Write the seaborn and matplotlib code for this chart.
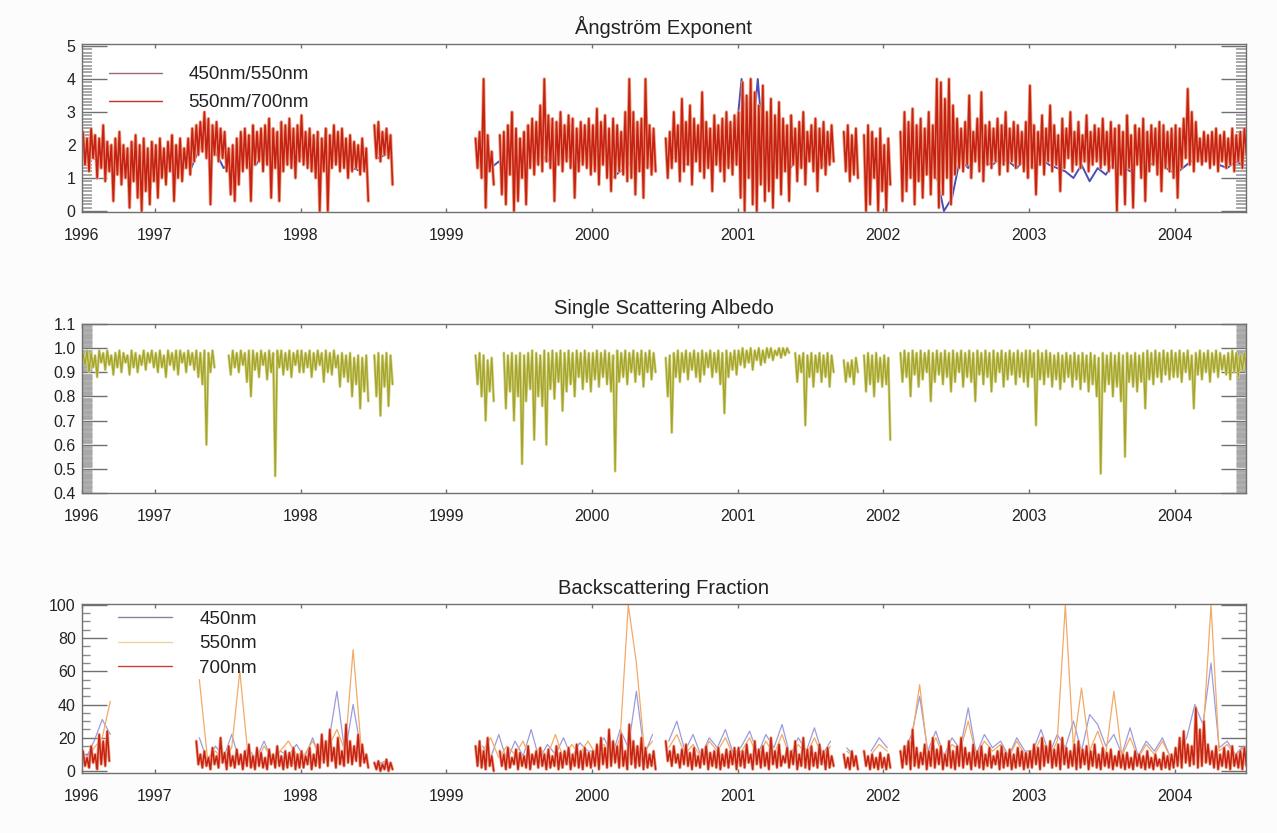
#!/usr/bin/env python3
'''
Series temporales de propiedades opticas del aerosol (1996-2004).
'''
import numpy as np
import pandas as pd
import matplotlib
matplotlib.use('Agg')
import matplotlib.pyplot as plt
from matplotlib.lines import Line2D
from matplotlib.ticker import FixedLocator, MultipleLocator, FormatStrFormatter
import seaborn as sns

G = np.nan  # hueco sin datos

YEARS = [1996, 1997, 1998, 1999, 2000, 2001, 2002, 2003, 2004]
YEAR_TICKS = [1996.5, 1997, 1998, 1999, 2000, 2001, 2002, 2003, 2004]
YEAR_LABELS = ['1996', '1997', '1998', '1999', '2000', '2001', '2002', '2003', '2004']

# Maximo / minimo leidos cada ~10 dias (36 por anio; 1996 y 2004 solo medio anio)
# --- Angstrom 550nm/700nm
ang_hi = [
    [2.4, 2.2, 2.5, 2.3, 2.2, 2.6, 2.1, 2.0, 2.2, 2.4, 2.0, 1.9,
     2.1, 2.3, 2.0, 2.2, 1.9, 2.1],
    [2.0, 2.2, 1.9, 2.1, 2.3, 2.0, 2.2, 1.9, 2.2, 2.5, 2.6, 2.7,
     3.0, 2.8, 2.6, 2.7, 2.5, 2.4, 1.9, 2.0, 2.2, 2.4, 2.5, 2.3,
     2.6, 2.4, 2.5, 2.6, 2.8, 2.5, 2.4, 2.7, 2.6, 2.8, 2.5, 2.6],
    [2.9, 2.4, 2.5, 2.3, 2.4, 2.2, 2.5, 2.3, 2.6, 2.4, 2.5, 2.2,
     2.3, 2.1, 2.0, 2.2, 1.9, G, 2.6, 2.7, 2.4, 2.5, 2.3, G,
     G, G, G, G, G, G, G, G, G, G, G, G],
    [G, G, G, G, G, G, G, 2.2, 2.4, 4.0, 2.3, 1.8,
     G, 2.3, 2.4, 2.6, 3.0, 2.5, 2.2, 2.4, 2.6, 2.8, 2.7, 3.2,
     4.0, 2.9, 2.8, 2.7, 3.0, 2.6, 2.9, 2.8, 2.5, 2.7, 2.6, 2.8],
    [2.6, 3.1, 2.7, 2.9, 2.5, 2.8, 2.6, 2.4, 3.0, 4.0, 3.0, 2.7,
     2.8, 4.0, 2.6, 2.5, G, G, 2.2, 2.4, 3.0, 2.6, 3.4, 2.7,
     3.2, 2.8, 2.6, 3.6, 2.7, 2.5, 2.9, 2.6, 2.8, 3.0, 2.7, 2.9],
    [3.0, 3.9, 3.5, 4.0, 3.6, 3.2, 3.8, 3.0, 3.4, 2.9, 3.3, 2.8,
     2.6, 2.9, 2.5, 2.7, 3.0, 2.4, 2.6, 2.8, 2.5, 2.7, 2.4, 2.6,
     G, G, 2.4, 2.6, 2.3, 2.5, G, 2.3, 2.6, 2.4, 2.2, 2.5],
    [2.0, 2.2, G, G, 2.4, 3.0, 2.7, 3.1, 2.6, 2.8, 2.5, 3.0,
     2.6, 4.0, 3.9, 3.4, 4.0, 3.2, 2.8, 2.5, 2.7, 3.5, 2.4, 2.8,
     3.6, 2.6, 2.7, 2.5, 2.8, 2.6, 3.0, 2.5, 2.7, 2.6, 2.4, 2.7],
    [3.8, 2.6, 2.4, 2.9, 2.5, 3.2, 2.6, 2.3, 2.8, 2.5, 3.0, 2.4,
     2.7, 2.3, 2.9, 2.4, 2.6, 2.5, 2.8, 2.4, 2.7, 2.5, 2.6, 2.4,
     2.9, 2.3, 2.6, 2.5, 2.8, 2.4, 2.6, 2.5, 2.7, 2.6, 2.4, 2.5],
    [2.6, 2.5, 2.8, 3.7, 3.0, 2.7, 2.2, 2.4, 2.3, 2.4, 2.5, 2.3,
     2.4, 2.2, 2.5, 2.3, 2.4, 2.5],
]
ang_lo = [
    [1.4, 1.2, 1.6, 1.0, 1.3, 0.9, 1.2, 0.3, 1.1, 0.8, 1.0, 0.1,
     0.9, 0.4, 0.0, 0.6, 0.2, 0.9],
    [0.4, 1.0, 0.8, 1.2, 0.3, 1.0, 0.9, 1.3, 1.1, 1.5, 1.7, 1.8,
     1.6, 0.2, 1.7, 1.5, 1.6, 1.2, 0.5, 0.3, 0.8, 1.2, 1.3, 0.3,
     1.4, 1.5, 1.2, 1.4, 0.4, 1.3, 0.3, 1.2, 1.4, 1.3, 1.0, 1.5],
    [1.4, 1.3, 1.2, 1.0, 0.0, 1.2, 0.0, 1.3, 1.4, 1.2, 1.3, 1.0,
     1.2, 1.3, 1.1, 1.2, 0.3, G, 1.6, 1.5, 1.7, 1.6, 0.8, G,
     G, G, G, G, G, G, G, G, G, G, G, G],
    [G, G, G, G, G, G, G, 1.3, 1.0, 0.1, 1.2, 0.8,
     G, 0.5, 0.2, 1.1, 0.0, 0.3, 1.0, 0.2, 1.3, 1.1, 1.4, 1.2,
     1.5, 1.3, 0.3, 1.4, 1.2, 1.5, 1.3, 0.4, 1.2, 1.4, 1.3, 1.1],
    [1.2, 0.8, 1.4, 1.0, 0.6, 1.0, 1.2, 1.1, 0.9, 1.0, 0.5, 1.2,
     0.4, 1.3, 1.1, 1.2, G, G, 1.0, 1.3, 1.5, 0.9, 1.2, 1.4,
     0.8, 1.5, 1.2, 1.0, 1.3, 0.6, 1.4, 1.2, 0.9, 1.3, 1.1, 1.4],
    [0.4, 0.0, 1.0, 0.2, 0.0, 0.8, 0.3, 0.6, 0.1, 1.0, 0.5, 1.2,
     0.3, 1.4, 0.9, 1.3, 0.8, 1.5, 1.2, 0.6, 1.3, 1.1, 1.4, 1.5,
     G, G, 1.2, 0.9, 1.1, 1.0, G, 0.0, 0.2, 1.0, 0.0, 0.6],
    [0.0, 0.8, G, G, 0.3, 0.6, 1.0, 0.2, 0.9, 0.4, 1.1, 0.5,
     1.0, 0.1, 0.5, 1.0, 0.2, 1.1, 1.3, 1.2, 1.4, 1.0, 1.5, 1.2,
     0.9, 1.4, 1.3, 1.5, 1.1, 1.4, 1.2, 1.5, 1.3, 1.4, 1.2, 1.0],
    [1.3, 0.5, 1.4, 1.1, 1.5, 1.2, 1.4, 0.6, 1.3, 1.6, 1.2, 1.4,
     1.3, 1.5, 1.2, 1.4, 1.5, 1.3, 1.4, 1.2, 1.3, 0.0, 1.1, 0.2,
     1.3, 0.1, 1.4, 1.0, 0.3, 1.2, 1.4, 1.1, 0.6, 1.3, 1.2, 1.0],
    [0.4, 1.3, 1.6, 1.4, 1.2, 1.5, 1.4, 1.5, 1.3, 1.4, 1.2, 1.5,
     1.3, 1.4, 1.2, 1.5, 1.3, 1.7],
]
# --- Angstrom 450nm/550nm (serie de 18 valores por anio, alternando)
ang_blue = [
    [1.8, 1.6, 1.4, 1.5, 1.2, 1.7, 1.0, 1.6, 1.3],
    [1.1, 1.6, 1.2, 1.5, 1.3, 1.9, 2.0, 1.8, 1.3, 1.5, 1.6, 1.7, 1.4, 1.8, 1.5, 1.4, 1.7, 1.6],
    [1.7, 1.5, 1.6, 1.4, 1.6, 1.5, 1.3, 1.2, G, 1.6, 1.7, G, G, G, G, G, G, G],
    [G, G, G, G, 1.6, 1.3, 1.5, 1.1, 1.7, 1.4, 1.6, 1.8, 1.5, 1.9, 1.6, 1.7, 1.5, 1.8],
    [1.6, 1.8, 1.0, 1.2, 1.4, 1.7, 1.5, 1.6, G, 1.5, 1.7, 1.4, 1.6, 1.8, 1.5, 1.7, 1.6, 1.5],
    [4.0, 1.2, 4.0, 1.0, 1.8, 1.5, 1.3, 1.6, 1.5, 1.7, 1.4, 1.6, G, 1.5, 1.3, G, 1.4, 1.6],
    [1.2, G, 1.5, 1.3, 1.6, 1.4, 1.2, 0.0, 0.4, 1.6, 1.3, 1.7, 1.5, 1.4, 1.6, 1.5, 1.3, 1.6],
    [1.5, 1.6, 1.4, 1.3, 1.2, 1.0, 1.4, 0.9, 1.3, 1.1, 1.5, 1.4, 1.2, 1.6, 1.3, 1.5, 1.4, 1.2],
    [1.2, 1.4, 1.6, 1.5, 1.7, 1.4, 1.3, 1.5, 1.4],
]

# --- Single scattering albedo
ssa_hi = [
    [0.98, 0.99, 0.98, 0.97, 0.99, 0.98, 0.99, 0.97, 0.98, 0.99, 0.98, 0.97,
     0.99, 0.98, 0.97, 0.99, 0.98, 0.99],
    [0.98, 0.99, 0.97, 0.99, 0.98, 0.99, 0.99, 0.98, 0.99, 0.98, 0.99, 0.98,
     0.99, 0.98, 0.99, G, G, G, 0.97, 0.99, 0.98, 0.99, 0.98, 0.99,
     0.99, 0.98, 0.99, 0.98, 0.99, 0.98, 0.99, 0.99, 0.98, 0.99, 0.98, 0.99],
    [0.99, 0.98, 0.99, 0.98, 0.99, 0.98, 0.99, 0.98, 0.99, 0.97, 0.98, 0.97,
     0.98, 0.96, 0.97, 0.96, 0.97, G, 0.97, 0.98, 0.97, 0.98, 0.97, G,
     G, G, G, G, G, G, G, G, G, G, G, G],
    [G, G, G, G, G, G, G, 0.97, 0.98, 0.97, 0.95, 0.96,
     G, G, 0.98, 0.97, 0.98, 0.97, 0.98, 0.97, 0.98, 0.99, 0.98, 0.97,
     0.99, 0.98, 0.99, 0.98, 0.99, 0.98, 0.99, 0.98, 0.99, 0.98, 0.99, 0.98],
    [0.98, 0.99, 0.98, 0.99, 0.98, 0.97, 0.99, 0.98, 0.99, 0.98, 0.99, 0.98,
     0.99, 0.98, 0.99, 0.98, G, G, 0.96, 0.97, 0.98, 0.99, 0.98, 0.99,
     0.98, 0.99, 0.98, 0.99, 0.98, 0.99, 0.98, 0.99, 0.98, 0.99, 0.98, 0.99],
    [0.99, 1.00, 0.99, 1.00, 0.99, 1.00, 0.99, 1.00, 1.00, 0.99, 1.00, 1.00,
     1.00, G, 0.98, 0.97, 0.98, 0.97, 0.98, 0.97, 0.98, 0.97, 0.98, 0.97,
     G, G, 0.95, 0.94, 0.95, 0.96, G, 0.97, 0.98, 0.97, 0.98, 0.96],
    [0.97, 0.96, G, G, 0.98, 0.99, 0.98, 0.99, 0.98, 0.99, 0.98, 0.99,
     0.98, 0.99, 0.98, 0.99, 0.98, 0.99, 0.98, 0.99, 0.98, 0.99, 0.98, 0.99,
     0.98, 0.99, 0.98, 0.99, 0.98, 0.99, 0.98, 0.99, 0.98, 0.99, 0.98, 0.99],
    [0.99, 0.98, 0.99, 0.98, 0.99, 0.98, 0.97, 0.98, 0.97, 0.98, 0.97, 0.98,
     0.97, 0.98, 0.97, 0.98, 0.97, 0.96, 0.98, 0.97, 0.98, 0.97, 0.98, 0.97,
     0.98, 0.97, 0.98, 0.97, 0.98, 0.99, 0.98, 0.99, 0.98, 0.99, 0.98, 0.99],
    [0.98, 0.99, 0.98, 0.99, 0.97, 0.98, 0.99, 0.98, 0.99, 0.98, 0.99, 0.98,
     0.97, 0.98, 0.99, 0.98, 0.97, 0.98],
]
ssa_lo = [
    [0.93, 0.90, 0.92, 0.88, 0.94, 0.91, 0.93, 0.89, 0.92, 0.90, 0.94, 0.89,
     0.92, 0.90, 0.93, 0.91, 0.94, 0.92],
    [0.90, 0.92, 0.88, 0.93, 0.91, 0.89, 0.94, 0.90, 0.93, 0.91, 0.88, 0.85,
     0.60, 0.90, 0.92, G, G, G, 0.89, 0.92, 0.90, 0.93, 0.86, 0.80,
     0.91, 0.88, 0.93, 0.87, 0.90, 0.47, 0.92, 0.89, 0.91, 0.88, 0.93, 0.90],
    [0.90, 0.92, 0.88, 0.91, 0.93, 0.86, 0.90, 0.89, 0.92, 0.84, 0.88, 0.86,
     0.80, 0.85, 0.75, 0.82, 0.78, G, 0.80, 0.72, 0.84, 0.76, 0.85, G,
     G, G, G, G, G, G, G, G, G, G, G, G],
    [G, G, G, G, G, G, G, 0.85, 0.80, 0.70, 0.82, 0.78,
     G, G, 0.75, 0.82, 0.70, 0.80, 0.52, 0.78, 0.83, 0.62, 0.80, 0.76,
     0.60, 0.83, 0.79, 0.86, 0.74, 0.82, 0.85, 0.80, 0.88, 0.83, 0.86, 0.82],
    [0.87, 0.84, 0.88, 0.85, 0.82, 0.49, 0.86, 0.88, 0.85, 0.90, 0.86, 0.89,
     0.84, 0.90, 0.87, 0.90, G, G, 0.80, 0.65, 0.88, 0.86, 0.90, 0.87,
     0.91, 0.88, 0.86, 0.89, 0.92, 0.88, 0.90, 0.85, 0.73, 0.88, 0.91, 0.89],
    [0.93, 0.92, 0.94, 0.91, 0.95, 0.93, 0.94, 0.96, 0.95, 0.97, 0.96, 0.97,
     0.98, G, 0.86, 0.90, 0.68, 0.88, 0.84, 0.90, 0.86, 0.88, 0.84, 0.90,
     G, G, 0.86, 0.88, 0.85, 0.90, G, 0.82, 0.85, 0.80, 0.86, 0.84],
    [0.85, 0.62, G, G, 0.86, 0.88, 0.80, 0.89, 0.84, 0.87, 0.90, 0.78,
     0.86, 0.89, 0.85, 0.88, 0.82, 0.86, 0.90, 0.84, 0.88, 0.86, 0.78, 0.89,
     0.85, 0.88, 0.82, 0.86, 0.90, 0.84, 0.87, 0.89, 0.85, 0.88, 0.86, 0.84],
    [0.88, 0.68, 0.87, 0.85, 0.88, 0.84, 0.87, 0.83, 0.86, 0.88, 0.84, 0.87,
     0.83, 0.86, 0.82, 0.85, 0.80, 0.48, 0.82, 0.85, 0.80, 0.84, 0.78, 0.55,
     0.86, 0.84, 0.82, 0.86, 0.75, 0.87, 0.85, 0.88, 0.86, 0.89, 0.87, 0.88],
    [0.88, 0.86, 0.90, 0.87, 0.75, 0.89, 0.87, 0.90, 0.86, 0.90, 0.88, 0.91,
     0.89, 0.87, 0.90, 0.88, 0.91, 0.90],
]

# --- Backscattering fraction 700nm
bsf_hi = [
    [12, 8, 15, 10, 22, 18, 24, G, G, G, G, G,
     G, G, G, G, G, G],
    [G, G, G, G, G, G, G, G, G, G, 18, 10,
     12, 8, 14, 9, 20, 11, 15, 9, 13, 10, 12, 16,
     9, 14, 11, 8, 13, 10, 15, 9, 12, 11, 14, 10],
    [12, 9, 14, 10, 16, 22, 18, 25, 14, 20, 12, 28,
     18, 15, 22, 16, 10, G, 5, 6, 4, 7, 5, G,
     G, G, G, G, G, G, G, G, G, G, G, G],
    [G, G, G, G, G, G, G, 15, 18, 12, 20, 9,
     G, 12, 10, 14, 8, 13, 11, 9, 15, 10, 12, 14,
     10, 13, 9, 15, 11, 12, 14, 10, 16, 12, 14, 11],
    [12, 16, 20, 14, 25, 18, 15, 22, 12, 28, 18, 15,
     20, 14, 10, 12, G, G, 18, 12, 15, 10, 13, 16,
     11, 14, 9, 13, 15, 11, 12, 14, 10, 13, 12, 14],
    [14, 12, 16, 10, 18, 13, 15, 11, 20, 12, 16, 9,
     14, 12, 18, 10, 20, 13, 15, 11, 16, 12, 14, 9,
     G, G, 10, 8, 12, 9, G, 12, 9, 10, 8, 11],
    [8, 10, G, G, 12, 15, 18, 25, 14, 11, 16, 12,
     20, 13, 15, 10, 18, 12, 15, 20, 14, 11, 16, 12,
     15, 10, 14, 9, 12, 15, 11, 13, 10, 14, 12, 11],
    [12, 16, 14, 20, 15, 18, 13, 16, 20, 14, 12, 16,
     18, 13, 15, 12, 16, 10, 14, 11, 13, 9, 12, 10,
     11, 8, 12, 10, 9, 12, 8, 10, 7, 11, 9, 10],
    [14, 20, 24, 16, 15, 38, 25, 30, 16, 12, 15, 10,
     14, 12, 15, 10, 12, 14],
]
bsf_lo = [
    [3, 2, 5, 1, 4, 3, 6, G, G, G, G, G,
     G, G, G, G, G, G],
    [G, G, G, G, G, G, G, G, G, G, 4, 2,
     3, 1, 4, 2, 5, 1, 3, 2, 4, 1, 3, 2,
     1, 3, 2, 1, 4, 2, 3, 1, 2, 3, 1, 2],
    [2, 4, 1, 3, 2, 5, 3, 6, 2, 4, 3, 5,
     4, 6, 3, 5, 2, G, 1, 0, 1, 0, 1, G,
     G, G, G, G, G, G, G, G, G, G, G, G],
    [G, G, G, G, G, G, G, 3, 2, 1, 3, 0,
     G, 3, 1, 2, 4, 1, 3, 2, 1, 4, 2, 3,
     1, 2, 3, 1, 2, 4, 1, 3, 2, 1, 3, 2],
    [3, 1, 4, 2, 3, 5, 2, 3, 1, 4, 2, 3,
     1, 2, 3, 1, G, G, 6, 3, 5, 2, 4, 3,
     1, 3, 2, 4, 1, 3, 2, 1, 3, 2, 4, 1],
    [3, 2, 5, 1, 4, 2, 3, 1, 4, 2, 3, 5,
     2, 4, 1, 3, 2, 1, 3, 2, 4, 1, 2, 3,
     G, G, 2, 1, 3, 1, G, 3, 1, 2, 1, 2],
    [1, 2, G, G, 2, 4, 1, 3, 2, 4, 1, 3,
     2, 4, 1, 3, 2, 1, 3, 2, 4, 1, 3, 2,
     1, 3, 2, 4, 1, 2, 3, 1, 2, 3, 1, 2],
    [2, 4, 1, 3, 5, 2, 3, 1, 4, 2, 3, 1,
     2, 4, 1, 3, 2, 1, 3, 2, 1, 3, 2, 1,
     2, 1, 3, 2, 1, 2, 1, 3, 1, 2, 1, 2],
    [3, 2, 5, 3, 4, 2, 3, 5, 4, 2, 1, 3,
     2, 1, 3, 2, 1, 3],
]
# --- Backscattering fraction 450nm y 550nm (18 valores por anio, alternando)
bsf_blue = [
    [8, 18, 31, 22, G, G, G, G, G],
    [G, G, G, G, G, 20, 6, 15, 8, 22, 5, 14, 7, 18, 6, 12, 9, 16],
    [8, 20, 6, 18, 48, 10, 40, 12, G, 4, 6, G, G, G, G, G, G, G],
    [G, G, G, G, 15, 8, 22, 6, 18, 9, 25, 7, 16, 10, 20, 8, 17, 12],
    [12, 20, 9, 25, 14, 48, 10, 22, G, 18, 30, 12, 22, 9, 20, 14, 25, 10],
    [15, 24, 10, 22, 14, 28, 9, 20, 12, 26, 10, 18, G, 14, 8, G, 12, 20],
    [14, G, 10, 22, 45, 12, 24, 9, 20, 13, 38, 10, 22, 14, 18, 9, 20, 12],
    [12, 25, 10, 22, 14, 30, 12, 34, 28, 15, 22, 10, 26, 9, 18, 12, 20, 8],
    [10, 20, 40, 28, 65, 14, 18, 10, 15],
]
bsf_orange = [
    [6, 14, 20, 42, G, G, G, G, G],
    [G, G, G, G, G, 55, 8, 12, 6, 14, 60, 10, 5, 15, 7, 12, 18, 10],
    [10, 18, 8, 15, 25, 12, 73, 14, G, 3, 5, G, G, G, G, G, G, G],
    [G, G, G, G, 12, 20, 8, 15, 10, 18, 6, 14, 9, 22, 7, 16, 10, 18],
    [10, 16, 8, 20, 100, 65, 12, 18, G, 14, 22, 10, 16, 8, 18, 12, 20, 9],
    [12, 20, 8, 18, 10, 22, 8, 16, 10, 20, 9, 15, G, 12, 8, G, 10, 16],
    [12, G, 8, 18, 52, 10, 20, 8, 16, 12, 30, 9, 18, 12, 16, 8, 18, 10],
    [10, 20, 8, 18, 100, 14, 50, 12, 24, 10, 48, 9, 20, 8, 16, 10, 18, 8],
    [8, 16, 12, 20, 100, 12, 16, 9, 14],
]


def flat(parts, per_year, name):
    out = []
    for year, part in zip(YEARS, parts):
        n = per_year // 2 if year in (1996, 2004) else per_year
        assert len(part) == n, '%s %d: %d != %d' % (name, year, len(part), n)
        out.extend(part)
    return np.array(out, dtype=float)


def segments(t, v):
    '''Tabla larga; cada hueco abre un nuevo tramo de linea.'''
    v = pd.Series(v)
    df = pd.DataFrame({'t': t, 'v': v, 'seg': v.isna().cumsum()})
    return df.dropna()


def band_frame(hi_parts, lo_parts, name):
    '''Alterna max y min de cada intervalo de 10 dias.'''
    hi = flat(hi_parts, 36, name + '_hi')
    lo = flat(lo_parts, 36, name + '_lo')
    t0 = 1996.5 + np.arange(len(hi)) / 36.0
    t = np.column_stack([t0 + 0.25 / 36, t0 + 0.75 / 36]).ravel()
    v = np.column_stack([hi, lo]).ravel()
    return segments(t, v)


def line_frame(parts, name):
    v = flat(parts, 18, name)
    t = 1996.5 + (np.arange(len(v)) + 0.5) / 18.0
    return segments(t, v)


def draw(ax, df, color, lw, alpha=1.0):
    sns.lineplot(data=df, x='t', y='v', units='seg', estimator=None, sort=False,
                 color=color, lw=lw, alpha=alpha, ax=ax, legend=False)


def style_axis(ax, ylim, yticks, fmt, minor, minor_len, minor_w, minor_col):
    ax.set_xlim(1996.5, 2004.49)
    ax.set_ylim(*ylim)
    ax.xaxis.set_major_locator(FixedLocator(YEAR_TICKS))
    ax.set_xticklabels(YEAR_LABELS)
    ax.yaxis.set_major_locator(FixedLocator(yticks))
    ax.yaxis.set_minor_locator(MultipleLocator(minor))
    ax.yaxis.set_major_formatter(FormatStrFormatter(fmt))
    ax.tick_params(axis='x', direction='in', length=3, width=1.0, top=True, bottom=True,
                   pad=11.5, color='#707070', labelsize=11.5, labelcolor='#222222')
    ax.tick_params(axis='y', which='major', direction='in', length=18, width=1.0,
                   left=True, right=True, pad=4.5, color='#707070', labelsize=11.5,
                   labelcolor='#222222')
    ax.tick_params(axis='y', which='minor', direction='in', length=minor_len, width=minor_w,
                   left=True, right=True, color=minor_col)
    for sp in ax.spines.values():
        sp.set_color('#707070')
        sp.set_linewidth(1.0)
    ax.set_xlabel('')
    ax.set_ylabel('')


sns.set_theme(style='white')
plt.rcParams['font.family'] = ['Liberation Sans', 'DejaVu Sans']

fig = plt.figure(figsize=(12.77, 8.33), dpi=100)
fig.patch.set_facecolor('#fcfcfc')

ax_1 = fig.add_axes([0.0642, 0.7455, 0.9115, 0.2017])
ax_2 = fig.add_axes([0.0642, 0.4082, 0.9115, 0.2029])
ax_3 = fig.add_axes([0.0642, 0.0720, 0.9115, 0.2029])

# Panel 1: exponente de Angstrom
ang_b = line_frame(ang_blue, 'ang_blue')
ang_r = band_frame(ang_hi, ang_lo, 'ang')
draw(ax_1, ang_b, '#3a3ab0', 1.4, 0.9)
draw(ax_1, ang_r, '#eea283', 2.4)
draw(ax_1, ang_r, '#c21408', 1.2, 0.9)
style_axis(ax_1, (-0.03, 5.06), [0, 1, 2, 3, 4, 5], '%d', 0.1, 7, 1.2, '#9a9a9a')
ax_1.set_title('Ångström Exponent', fontsize=14.5, pad=7, color='#222222')
h_1 = [Line2D([], [], color='#9a6a78', lw=1.0), Line2D([], [], color='#c83020', lw=1.0)]
ax_1.legend(h_1, ['450nm/550nm', '550nm/700nm'], loc='upper left', bbox_to_anchor=(0.023, 0.867),
            frameon=False, fontsize=13.5, handlelength=2.85, handletextpad=1.4, labelspacing=0.56,
            borderpad=0, borderaxespad=0, labelcolor='#222222')

# Panel 2: albedo de dispersion simple
ssa = band_frame(ssa_hi, ssa_lo, 'ssa')
draw(ax_2, ssa, '#d6d68a', 2.0)
draw(ax_2, ssa, '#a0a024', 1.0, 0.9)
style_axis(ax_2, (0.4, 1.1), np.round(np.arange(0.4, 1.101, 0.1), 1), '%.1f', 0.01, 7, 2.0,
           '#a8a8a8')
ax_2.set_title('Single Scattering Albedo', fontsize=14.5, pad=7, color='#222222')

# Panel 3: fraccion de retrodispersion
bsf_b = line_frame(bsf_blue, 'bsf_blue')
bsf_o = line_frame(bsf_orange, 'bsf_orange')
bsf_r = band_frame(bsf_hi, bsf_lo, 'bsf')
draw(ax_3, bsf_b, '#8484d4', 0.9, 0.8)
draw(ax_3, bsf_o, '#f2aa66', 0.9)
draw(ax_3, bsf_r, '#eea283', 2.2)
draw(ax_3, bsf_r, '#c21408', 1.1, 0.9)
style_axis(ax_3, (-1.2, 100.5), [0, 20, 40, 60, 80, 100], '%d', 5, 6, 1.0, '#8a8a8a')
ax_3.set_title('Backscattering Fraction', fontsize=14.5, pad=7, color='#222222')
h_3 = [Line2D([], [], color='#8a80a0', lw=1.0), Line2D([], [], color='#ecd49a', lw=1.0),
       Line2D([], [], color='#d04030', lw=1.0)]
ax_3.legend(h_3, ['450nm', '550nm', '700nm'], loc='upper left', bbox_to_anchor=(0.031, 0.962),
            frameon=False, fontsize=13.5, handlelength=2.9, handletextpad=1.44, labelspacing=0.40,
            borderpad=0, borderaxespad=0, labelcolor='#222222')

fig.savefig('out.png', dpi=100, facecolor=fig.get_facecolor())
